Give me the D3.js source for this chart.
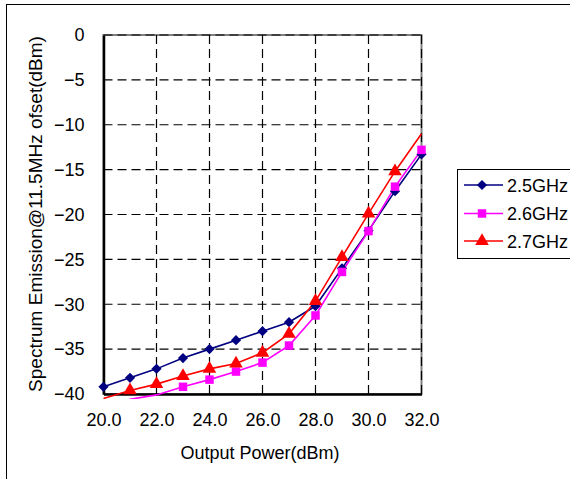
<!DOCTYPE html>
<html><head><meta charset="utf-8">
<script src="https://cdn.jsdelivr.net/npm/d3@7"></script>
<style>body{margin:0;background:#fff}svg{display:block}text{font-family:"Liberation Sans",Arial,sans-serif;fill:#000}</style>
</head><body>
<svg id="c" width="570" height="479"></svg>
<script>
const xValues = [20,21,22,23,24,25,26,27,28,29,30,31,32];
const s25 = [-39.2,-38.2,-37.2,-36.0,-35.0,-34.0,-33.0,-32.0,-30.2,-26.0,-21.8,-17.4,-13.3];
const s26 = [-41.5,-40.6,-40.1,-39.2,-38.4,-37.5,-36.5,-34.6,-31.25,-26.4,-21.85,-16.9,-12.8];
const s27 = [-40.5,-39.6,-38.9,-38.0,-37.2,-36.6,-35.4,-33.3,-29.65,-24.75,-19.9,-15.2,-11.0];
const seriesNames = ["2.5GHz","2.6GHz","2.7GHz"];
const xTicks = [20,22,24,26,28,30,32];
const yTicks = [0,-5,-10,-15,-20,-25,-30,-35,-40];
const xTitle = "Output Power(dBm)";
const yTitle = "Spectrum Emission@11.5MHz ofset(dBm)";

const colors = ["#000080","#FF00FF","#FF0000"];
const shapes = [d3.symbolSquare, d3.symbolSquare, d3.symbolTriangle];
const sizes = [52, 72, 80];
const rot = ["rotate(45)","",""];

const svg = d3.select("#c");
const L=103.5, R=421.5, T=35, B=394;
const x = d3.scaleLinear().domain([20,32]).range([L,R]);
const y = d3.scaleLinear().domain([-40,0]).range([B,T]);

// outer border
svg.append("rect").attr("x",6.5).attr("y",4.5).attr("width",600).attr("height",600)
  .attr("fill","none").attr("stroke","#000").attr("stroke-width",1);

// plot area border
svg.append("rect").attr("x",L).attr("y",T).attr("width",R-L).attr("height",B-T)
  .attr("fill","#fff").attr("stroke","#808080").attr("stroke-width",2);

// grid
const g = svg.append("g");
g.selectAll(".vg").data(xTicks.slice(1)).join("line")
  .attr("x1",d=>x(d)).attr("x2",d=>x(d)).attr("y1",T).attr("y2",B)
  .attr("stroke","#000").attr("stroke-width",1.2).attr("stroke-dasharray","9,5");
g.selectAll(".hg").data(yTicks.slice(0,-1)).join("line")
  .attr("x1",L).attr("x2",R).attr("y1",d=>y(d)).attr("y2",d=>y(d))
  .attr("stroke","#000").attr("stroke-width",1.2).attr("stroke-dasharray","9,5");

// axes
const xAxis = d3.axisBottom(x).tickValues(xTicks).tickFormat(d3.format(".1f")).tickSize(0).tickPadding(19);
const xa = svg.append("g").attr("transform",`translate(0,${B})`).call(xAxis);
xa.select(".domain").attr("stroke","#000").attr("stroke-width",2.5);
xa.selectAll("text").attr("font-size",18).attr("font-family","Liberation Sans, Arial, sans-serif").attr("fill","#000");

const yAxis = d3.axisLeft(y).tickValues(yTicks).tickFormat(d3.format("d")).tickSize(0).tickPadding(19);
const ya = svg.append("g").attr("transform",`translate(${L},0)`).call(yAxis);
ya.select(".domain").attr("stroke","#000").attr("stroke-width",2.5);
ya.selectAll("text").attr("font-size",18).attr("font-family","Liberation Sans, Arial, sans-serif").attr("fill","#000");

// titles
svg.append("text").attr("x",260).attr("y",459).attr("text-anchor","middle").attr("font-size",18).text(xTitle);
svg.append("text").attr("transform","translate(42,214) rotate(-90)").attr("text-anchor","middle").attr("font-size",19).text(yTitle);

// clip
svg.append("clipPath").attr("id","clip").append("rect").attr("x",L-6).attr("y",T-6).attr("width",R-L+12).attr("height",B-T+11);

const series = [s25,s26,s27];
const line = d3.line().x(d=>x(d[0])).y(d=>y(d[1]));
const plot = svg.append("g").attr("clip-path","url(#clip)");
series.forEach((s,i)=>{
  const pts = xValues.map((v,j)=>[v,s[j]]);
  plot.append("path").datum(pts).attr("d",line).attr("fill","none").attr("stroke",colors[i]).attr("stroke-width",1.6);
});
series.forEach((s,i)=>{
  const pts = xValues.map((v,j)=>[v,s[j]]).filter(p=>p[1]>=-40 && !(i===2 && p[0]===32));
  svg.append("g").selectAll("path").data(pts).join("path")
    .attr("d",d3.symbol().type(shapes[i]).size(sizes[i]))
    .attr("transform",d=>`translate(${x(d[0])},${y(d[1])}) ${rot[i]}`)
    .attr("fill",colors[i]);
});

// legend
const lg = svg.append("g");
lg.append("rect").attr("x",457.5).attr("y",169.5).attr("width",130).attr("height",89)
  .attr("fill","#fff").attr("stroke","#000").attr("stroke-width",1);
const ly = [185,213.5,241];
seriesNames.forEach((n,i)=>{
  lg.append("line").attr("x1",464).attr("x2",503).attr("y1",ly[i]).attr("y2",ly[i]).attr("stroke",colors[i]).attr("stroke-width",1.6);
  lg.append("path").attr("d",d3.symbol().type(shapes[i]).size(sizes[i]))
    .attr("transform",`translate(482,${ly[i]}) ${rot[i]}`).attr("fill",colors[i]);
  lg.append("text").attr("x",507).attr("y",ly[i]+6.5).attr("font-size",18).text(n);
});
</script>
</body></html>
